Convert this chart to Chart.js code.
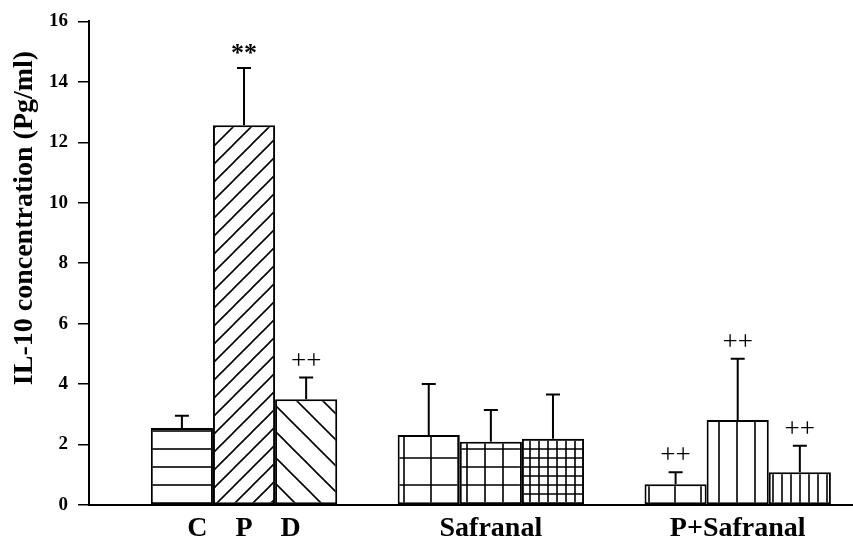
<!DOCTYPE html>
<html><head><meta charset="utf-8">
<script src="https://cdn.jsdelivr.net/npm/chart.js@4.4.0/dist/chart.umd.min.js"></script>
<style>html,body{margin:0;padding:0;background:#fff}</style>
</head><body>
<canvas id="c" width="853" height="549"></canvas>
<script>
// ---- data ----
const categories = ['C    P    D', 'Safranal', 'P+Safranal'];
const categoryPositions = [1, 2, 3];
const bar1Values = [2.55, 2.32, 0.69];
const bar1Errors = [0.40, 1.68, 0.39];
const bar2Values = [12.56, 2.09, 2.81];
const bar2Errors = [1.90, 1.05, 2.03];
const bar3Values = [3.50, 2.19, 1.08];
const bar3Errors = [0.72, 1.47, 0.88];
const bar1Marks = ['', '', '++'];
const bar2Marks = ['**', '', '++'];
const bar3Marks = ['++', '', '++'];
const yTickValues = [0, 2, 4, 6, 8, 10, 12, 14, 16];
const yTitle = 'IL-10 concentration (Pg/ml)';

// ---- patterns ----
function makePattern(size, draw) {
  const c = document.createElement('canvas');
  c.width = size; c.height = size;
  const g = c.getContext('2d');
  g.fillStyle = '#fff'; g.fillRect(0, 0, size, size);
  g.strokeStyle = '#000'; g.lineWidth = 1.6;
  draw(g, size);
  return g.createPattern(c, 'repeat');
}
const hLines = s => makePattern(s, (g, n) => { g.beginPath(); g.moveTo(0, n - 1); g.lineTo(n, n - 1); g.stroke(); });
const vLines = s => makePattern(s, (g, n) => { g.beginPath(); g.moveTo(n - 1, 0); g.lineTo(n - 1, n); g.stroke(); });
const grid = s => makePattern(s, (g, n) => { g.beginPath(); g.moveTo(0, n - 1); g.lineTo(n, n - 1); g.moveTo(n - 1, 0); g.lineTo(n - 1, n); g.stroke(); });
const fwd = s => makePattern(s, (g, n) => { g.beginPath(); g.moveTo(-n, 2 * n); g.lineTo(2 * n, -n); g.moveTo(-n, n); g.lineTo(n, -n); g.moveTo(0, 2 * n); g.lineTo(2 * n, 0); g.stroke(); });
const bwd = s => makePattern(s, (g, n) => { g.beginPath(); g.moveTo(-n, -n); g.lineTo(2 * n, 2 * n); g.moveTo(-n, 0); g.lineTo(n, 2 * n); g.moveTo(0, -n); g.lineTo(2 * n, n); g.stroke(); });

const bar1Fills = [hLines(18), grid(27), vLines(26)];
const bar2Fills = [fwd(18), grid(18), vLines(18)];
const bar3Fills = [bwd(26), grid(9), vLines(9)];

const toPoints = vals => vals.map((v, i) => ({ x: categoryPositions[i], y: v }));
const errorSets = [bar1Errors, bar2Errors, bar3Errors];
const markSets = [bar1Marks, bar2Marks, bar3Marks];

const errorPlugin = {
  id: 'errs',
  afterDatasetsDraw(chart) {
    const ctx = chart.ctx, ys = chart.scales.y;
    ctx.save();
    ctx.strokeStyle = '#000'; ctx.lineWidth = 2;
    chart.data.datasets.forEach((ds, di) => {
      const meta = chart.getDatasetMeta(di);
      meta.data.forEach((bar, i) => {
        const v = ds.data[i].y, e = errorSets[di][i];
        const yt = ys.getPixelForValue(v + e);
        ctx.beginPath();
        ctx.moveTo(bar.x, bar.y); ctx.lineTo(bar.x, yt);
        ctx.moveTo(bar.x - 7, yt); ctx.lineTo(bar.x + 7, yt);
        ctx.stroke();
        const m = markSets[di][i];
        if (m) {
          ctx.fillStyle = '#000';
          ctx.textAlign = 'center';
          ctx.textBaseline = 'middle';
          if (m === '**') {
            ctx.font = 'bold 26px "Liberation Serif"';
            ctx.fillText(m, bar.x, yt - 14);
          } else {
            ctx.font = '27px "Liberation Serif"';
            ctx.fillText(m, bar.x, yt - 16);
          }
        }
      });
    });
    // y title
    ctx.save();
    ctx.translate(25, 218);
    ctx.rotate(-Math.PI / 2);
    ctx.font = 'bold 28px "Liberation Serif"';
    ctx.fillStyle = '#000';
    ctx.textAlign = 'center';
    ctx.textBaseline = 'middle';
    ctx.fillText(yTitle, 0, 0);
    ctx.restore();
    ctx.restore();
  }
};

new Chart(document.getElementById('c'), {
  type: 'bar',
  data: {
    datasets: [
      { data: toPoints(bar1Values), backgroundColor: bar1Fills },
      { data: toPoints(bar2Values), backgroundColor: bar2Fills },
      { data: toPoints(bar3Values), backgroundColor: bar3Fills }
    ]
  },
  options: {
    responsive: false,
    animation: false,
    devicePixelRatio: 1,
    layout: { padding: { top: 16, right: 1, left: 0, bottom: 0 } },
    datasets: { bar: { borderColor: '#000', borderWidth: 2, borderSkipped: false, categoryPercentage: 0.755, barPercentage: 1 } },
    plugins: { legend: { display: false }, tooltip: { enabled: false } },
    scales: {
      x: {
        type: 'linear',
        offset: false,
        min: 0.372, max: 3.463,
        afterBuildTicks: s => { s.ticks = categoryPositions.map(v => ({ value: v })); },
        afterFit: s => { s.height = 44; },
        grid: { display: false, drawTicks: false, offset: false },
        border: { display: true, color: '#000', width: 2 },
        ticks: {
          autoSkip: false, maxRotation: 0, padding: 7, color: '#000',
          font: { family: '"Liberation Serif"', weight: 'bold', size: 28 },
          callback: v => categories[categoryPositions.indexOf(v)] ?? ''
        }
      },
      y: {
        min: 0, max: 16,
        afterBuildTicks: s => { s.ticks = yTickValues.map(v => ({ value: v })); },
        afterFit: s => { s.width = 89; },
        grid: { display: true, drawOnChartArea: false, drawTicks: true, tickLength: 11, color: '#000', lineWidth: 1.5 },
        border: { display: true, color: '#000', width: 2 },
        ticks: { padding: 10, color: '#000', font: { family: '"Liberation Serif"', weight: 'bold', size: 19 } },
        title: { display: false }
      }
    }
  },
  plugins: [errorPlugin]
});
</script>
</body></html>
